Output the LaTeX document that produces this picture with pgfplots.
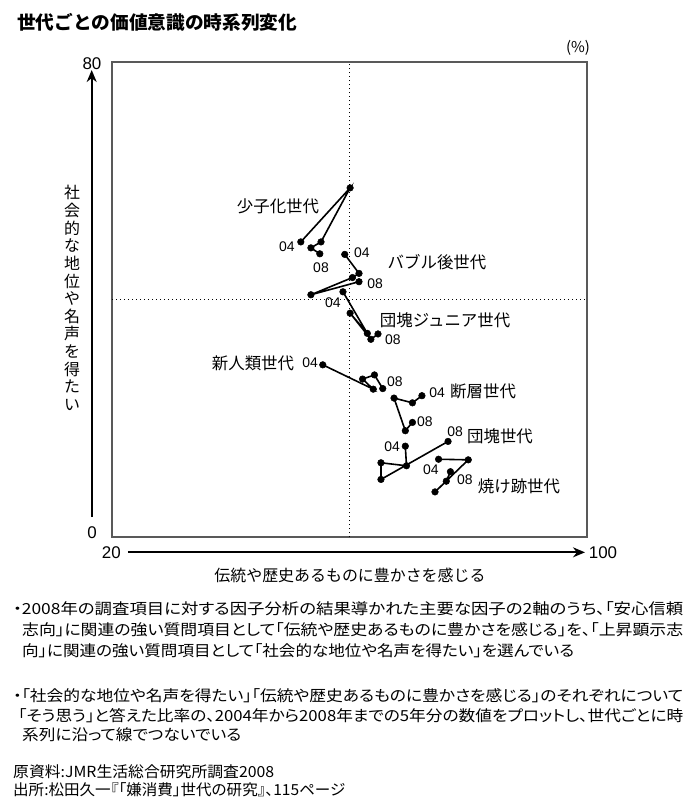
\documentclass[border=0pt]{standalone}
\usepackage{fontspec}
\usepackage{graphicx}
\usepackage{pgfplots}
\pgfplotsset{compat=1.18}
\usetikzlibrary{arrows.meta}
\setmainfont{Liberation Sans}
\newfontfamily\jp{Noto Sans CJK JP}
\newfontfamily\jpp[RawFeature=+palt]{Noto Sans CJK JP}
\pgfplotstableread{
x y
51.8 49.7
60.1 58.8
55.2 49.7
53.5 48.7
55.0 47.7
}\shoshi
\pgfplotstableread{
x y
59.2 47.6
61.6 44.4
60.5 43.7
53.5 40.8
61.6 43.0
}\bubble
\pgfplotstableread{
x y
58.9 41.3
63.0 34.3
60.1 37.7
63.6 33.3
64.8 34.2
}\junior
\pgfplotstableread{
x y
55.5 29.0
64.0 24.9
62.2 26.6
64.2 27.3
65.6 25.0
}\shinjin
\pgfplotstableread{
x y
72.2 23.8
70.6 22.6
67.5 23.4
69.4 17.9
70.6 19.3
}\dansou
\pgfplotstableread{
x y
69.4 15.3
69.6 12.0
65.3 12.5
65.3 9.7
76.6 16.1
}\dankai
\pgfplotstableread{
x y
75.0 13.1
80.0 13.0
74.4 7.6
76.3 9.4
77.0 11.0
}\yakeato
\pgfplotsset{gen/.style={black, solid, line width=1.6bp, mark=*, mark size=3.3bp, mark options={solid, fill=black, draw=black, line width=0.5bp}}}
\begin{document}
\begin{tikzpicture}[x=1bp,y=-1bp]
\path[use as bounding box] (0,0) rectangle (691,800);
\begin{axis}[
  at={(112bp,-537bp)}, anchor=south west,
  scale only axis, width=475bp, height=475bp,
  xmin=20, xmax=100, ymin=0, ymax=80,
  xtick=\empty, ytick=\empty,
  axis line style={draw=black!65, line width=1.3bp},
  clip=false,
]
\draw[black, line width=1.2bp, dash pattern=on 1.3bp off 2.7bp] (axis cs:60,0) -- (axis cs:60,80);
\draw[black, line width=1.2bp, dash pattern=on 1.3bp off 2.7bp] (axis cs:20,40) -- (axis cs:100,40);
\addplot[gen] table[x=x,y=y] {\shoshi};
\addplot[gen] table[x=x,y=y] {\bubble};
\addplot[gen] table[x=x,y=y] {\junior};
\addplot[gen] table[x=x,y=y] {\shinjin};
\addplot[gen] table[x=x,y=y] {\dansou};
\addplot[gen] table[x=x,y=y] {\dankai};
\addplot[gen] table[x=x,y=y] {\yakeato};
% axis arrows
\draw[black, line width=1.8bp, -{Stealth[length=12bp, width=10bp]}] (axis cs:16.58,3.37) -- (axis cs:16.58,78.65);
\draw[black, line width=1.8bp, -{Stealth[length=12bp, width=10bp]}] (axis cs:22.69,-2.58) -- (axis cs:99.66,-2.58);
% axis numbers
\begin{scope}[every node/.style={inner sep=0, font=\fontsize{17}{17}\selectfont}]
\node at (axis cs:16.63,79.66) {80};
\node at (axis cs:16.63,0.67) {0};
\node at (axis cs:19.9,-2.7) {20};
\node at (axis cs:102.7,-2.58) {100};
\node[font=\jp\fontsize{15}{15}\selectfont] at (axis cs:98.5,82.36) {(\%)};
\end{scope}
% axis titles
\node[inner sep=0, align=center, font={\jp\fontsize{16}{17.7}\selectfont}] at (axis cs:13.26,40.25) {社\\会\\的\\な\\地\\位\\や\\名\\声\\を\\得\\た\\い};
\node[inner sep=0, font={\jp\fontsize{16}{16}\selectfont}] at (axis cs:60.08,-6.4) {伝統や歴史あるものに豊かさを感じる};
% year labels
\begin{scope}[every node/.style={inner sep=0, font=\fontsize{14}{14}\selectfont}]
\node at (axis cs:49.47,48.84) {04};
\node at (axis cs:55.2,45.3) {08};
\node at (axis cs:62.1,47.83) {04};
\node at (axis cs:64.3,42.6) {08};
\node at (axis cs:57.2,39.4) {04};
\node at (axis cs:67.3,33.2) {08};
\node at (axis cs:53.35,29.3) {04};
\node at (axis cs:67.66,26.1) {08};
\node at (axis cs:74.74,24.25) {04};
\node at (axis cs:72.7,19.4) {08};
\node at (axis cs:67.16,15.16) {04};
\node at (axis cs:77.77,17.7) {08};
\node at (axis cs:73.7,11.3) {04};
\node at (axis cs:79.45,9.6) {08};
\end{scope}
% generation names
\begin{scope}[every node/.style={inner sep=0, font=\jp\fontsize{16.5}{16.5}\selectfont}]
\node at (axis cs:47.96,55.75) {少子化世代};
\node at (axis cs:74.74,46.3) {バブル後世代};
\node at (axis cs:76.1,36.5) {団塊ジュニア世代};
\node at (axis cs:43.75,29.3) {新人類世代};
\node at (axis cs:82.5,24.6) {断層世代};
\node at (axis cs:85.35,17.0) {団塊世代};
\node at (axis cs:88.55,8.6) {焼け跡世代};
\end{scope}
\end{axis}
% title
\node[anchor=west, inner sep=0] at (17,22) {\resizebox{280bp}{\height}{\jp\bfseries\fontsize{18.5}{18.5}\selectfont 世代ごとの価値意識の時系列変化}};
% notes
\begin{scope}[every node/.style={anchor=west, inner sep=0, font=\jpp\fontsize{15.3}{15.3}\selectfont}]
\node at (13,609) {\resizebox{670bp}{\height}{・2008年の調査項目に対する因子分析の結果導かれた主要な因子の2軸のうち、「安心信頼}};
\node at (22,630) {\resizebox{661bp}{\height}{志向」に関連の強い質問項目として「伝統や歴史あるものに豊かさを感じる」を、「上昇顕示志}};
\node at (22,651) {\resizebox{552bp}{\height}{向」に関連の強い質問項目として「社会的な地位や名声を得たい」を選んでいる}};
\node at (13,696) {\resizebox{670bp}{\height}{・「社会的な地位や名声を得たい」「伝統や歴史あるものに豊かさを感じる」のそれぞれについて}};
\node at (18,716) {\resizebox{665bp}{\height}{「そう思う」と答えた比率の、2004年から2008年までの5年分の数値をプロットし、世代ごとに時}};
\node at (22,735) {\resizebox{219bp}{\height}{系列に沿って線でつないでいる}};
\node at (13,772) {\resizebox{261bp}{\height}{原資料:JMR生活総合研究所調査2008}};
\node at (13,790) {\resizebox{332bp}{\height}{出所:松田久一『「嫌消費」世代の研究』、115ページ}};
\end{scope}
\end{tikzpicture}
\end{document}
